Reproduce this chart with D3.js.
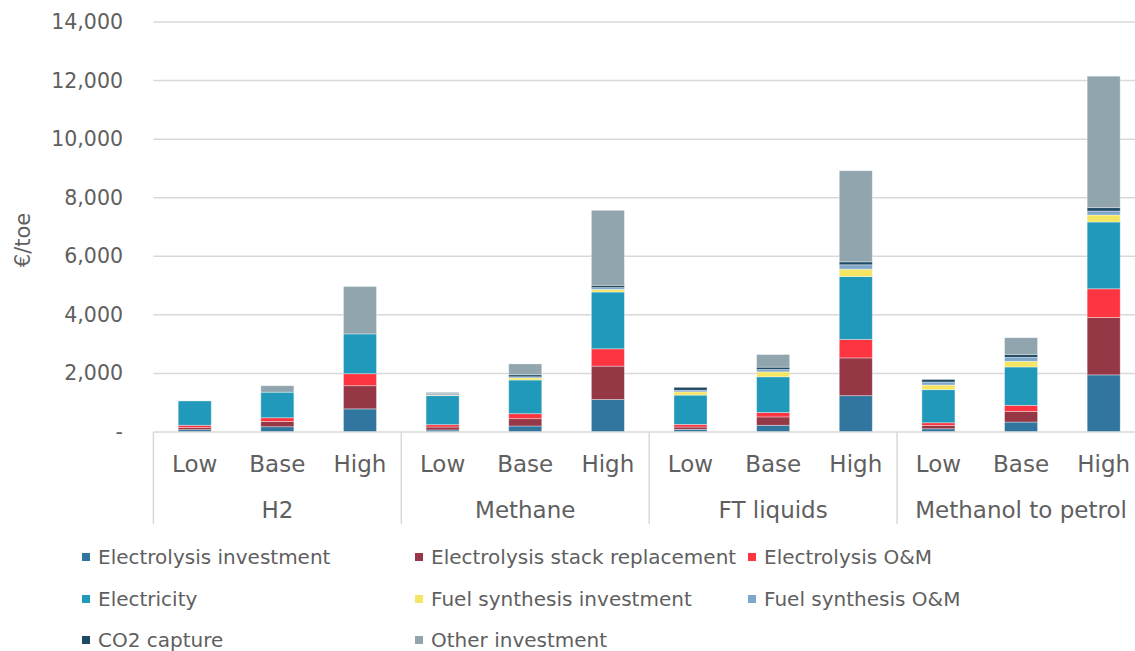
<!DOCTYPE html>
<html>
<head>
<meta charset="utf-8">
<script src="https://cdn.jsdelivr.net/npm/d3@7"></script>
<style>
  body { margin: 0; background: #fff; }
  text { font-family: "DejaVu Sans", sans-serif; fill: #5f5f5f; }
</style>
</head>
<body>
<svg id="chart" width="1135" height="651"></svg>
<script>
/*
 * Data
 *****************************/
const GROUPS = ["H2", "Methane", "FT liquids", "Methanol to petrol"];
const SCENARIOS = ["Low", "Base", "High"];
const Y_TICKS = [0, 2000, 4000, 6000, 8000, 10000, 12000, 14000];

const SERIES_NAMES = ["Electrolysis investment", "Electrolysis stack replacement", "Electrolysis O&M",
  "Electricity", "Fuel synthesis investment", "Fuel synthesis O&M", "CO2 capture", "Other investment"];
const SERIES_COLORS = ["#31769f", "#963746", "#fd3540", "#2199bb", "#f4e562", "#7fa7cb", "#1f4a66", "#91a5ae"];

// order: H2 L/B/H, Methane L/B/H, FT L/B/H, Methanol L/B/H
const electrolysisInvestment = [80, 180, 790, 70, 205, 1110, 90, 230, 1240, 110, 340, 1950];
const stackReplacement       = [70, 180, 790, 100, 250, 1140, 80, 285, 1290, 115, 365, 1960];
const electrolysisOM         = [80, 125, 410, 80, 170, 590, 90, 150, 630, 90, 205, 980];
const electricity            = [830, 875, 1360, 990, 1150, 1940, 1000, 1220, 2150, 1130, 1310, 2280];
const fuelSynthInvestment    = [0, 0, 0, 20, 70, 90, 110, 170, 250, 160, 195, 240];
const fuelSynthOM            = [0, 0, 0, 20, 40, 60, 55, 80, 150, 100, 135, 135];
const co2Capture             = [0, 0, 0, 35, 70, 80, 100, 80, 100, 90, 100, 115];
const otherInvestment        = [0, 220, 1620, 40, 370, 2560, 0, 430, 3110, 0, 570, 4490];

const SERIES_VALUES = [electrolysisInvestment, stackReplacement, electrolysisOM, electricity,
  fuelSynthInvestment, fuelSynthOM, co2Capture, otherInvestment];

/*
 * Layout
 *****************************/
const svg = d3.select("#chart");
const plotLeft = 153.4, plotRight = 1145, plotTop = 22, plotBottom = 432;
const gridColor = "#d9d9d9";

// table of rows, one per bar
const rows = [];
GROUPS.forEach((g, gi) => {
  SCENARIOS.forEach((s, si) => {
    const i = gi * SCENARIOS.length + si;
    const row = { id: i, group: g, scenario: s };
    SERIES_NAMES.forEach((name, k) => { row[name] = SERIES_VALUES[k][i]; });
    rows.push(row);
  });
});

const xScale = d3.scaleBand()
  .domain(rows.map(d => d.id))
  .range([plotLeft, plotRight])
  .paddingInner(0.6)
  .paddingOuter(0.3);

const yScale = d3.scaleLinear()
  .domain([0, 14000])
  .range([plotBottom, plotTop]);

const step = xScale.step();

// gridlines
svg.append("g")
  .selectAll("line")
  .data(Y_TICKS.slice(1))
  .enter()
  .append("line")
  .attr("x1", plotLeft).attr("x2", plotRight)
  .attr("y1", d => yScale(d)).attr("y2", d => yScale(d))
  .attr("stroke", gridColor)
  .attr("stroke-width", 1.5);

// y axis labels
const yAxis = d3.axisLeft(yScale)
  .tickValues(Y_TICKS)
  .tickSize(0)
  .tickPadding(0)
  .tickFormat(d => d === 0 ? "-" : d3.format(",")(d));

const yAxisG = svg.append("g")
  .attr("transform", "translate(123,0)")
  .call(yAxis);
yAxisG.select(".domain").remove();
yAxisG.selectAll("text")
  .style("font-size", "20.5px")
  .attr("fill", "#5f5f5f")
  .attr("font-family", "DejaVu Sans, sans-serif");

svg.append("text")
  .attr("transform", "translate(30,240) rotate(-90)")
  .attr("text-anchor", "middle")
  .style("font-size", "21px")
  .text("€/toe");

// stacked bars
const stack = d3.stack().keys(SERIES_NAMES);
const layers = stack(rows);

svg.append("g")
  .selectAll("g")
  .data(layers)
  .enter()
  .append("g")
  .attr("fill", (d, i) => SERIES_COLORS[i])
  .selectAll("rect")
  .data(d => d.filter(p => p[1] - p[0] > 0))
  .enter()
  .append("rect")
  .attr("x", p => xScale(p.data.id))
  .attr("width", xScale.bandwidth())
  .attr("y", p => yScale(p[1]))
  .attr("height", p => yScale(p[0]) - yScale(p[1]))
  .attr("stroke", "#ffffff")
  .attr("stroke-opacity", 0.45)
  .attr("stroke-width", 0.8);

// category axis: baseline, group separators, labels
svg.append("line")
  .attr("x1", plotLeft).attr("x2", plotRight)
  .attr("y1", plotBottom).attr("y2", plotBottom)
  .attr("stroke", gridColor)
  .attr("stroke-width", 1.5);

svg.append("g")
  .selectAll("line")
  .data(d3.range(GROUPS.length + 1))
  .enter()
  .append("line")
  .attr("x1", k => plotLeft + k * step * SCENARIOS.length)
  .attr("x2", k => plotLeft + k * step * SCENARIOS.length)
  .attr("y1", plotBottom).attr("y2", 524)
  .attr("stroke", gridColor)
  .attr("stroke-width", 1.5);

svg.append("g")
  .selectAll("text")
  .data(rows)
  .enter()
  .append("text")
  .attr("x", d => xScale(d.id) + xScale.bandwidth() / 2)
  .attr("y", 472)
  .attr("text-anchor", "middle")
  .style("font-size", "23px")
  .text(d => d.scenario);

svg.append("g")
  .selectAll("text")
  .data(GROUPS)
  .enter()
  .append("text")
  .attr("x", (g, gi) => plotLeft + (gi + 0.5) * step * SCENARIOS.length)
  .attr("y", 518)
  .attr("text-anchor", "middle")
  .style("font-size", "23px")
  .text(g => g);

// legend
const legendX = [82, 415, 748];
const legendY = [557, 599, 640];
const legend = svg.append("g")
  .selectAll("g")
  .data(SERIES_NAMES)
  .enter()
  .append("g")
  .attr("transform", (d, i) => "translate(" + legendX[i % 3] + "," + legendY[Math.floor(i / 3)] + ")");

legend.append("rect")
  .attr("x", 0).attr("y", -4)
  .attr("width", 8).attr("height", 8)
  .attr("fill", (d, i) => SERIES_COLORS[i]);

legend.append("text")
  .attr("x", 16)
  .attr("y", 7)
  .style("font-size", "20px")
  .text(d => d);
</script>
</body>
</html>
